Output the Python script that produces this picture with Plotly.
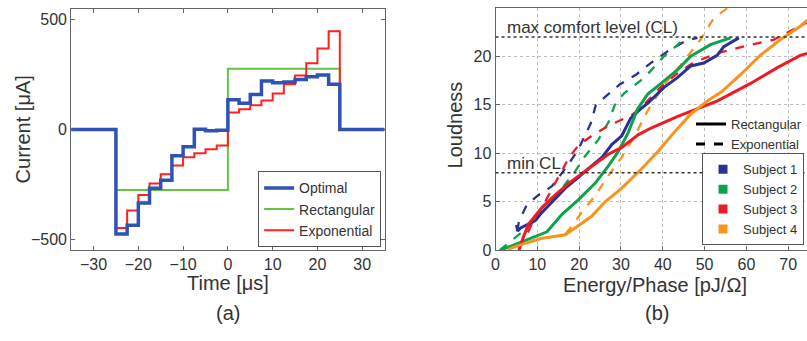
import plotly.graph_objects as go

W, H = 807, 341
FONT = "Liberation Sans, Arial, Helvetica, sans-serif"
TXT = "#333333"

# ---------------- (a) stimulation waveforms ----------------
t_edges = [-35, -25, -22.5, -20, -17.5, -15, -12.5, -10, -7.5, -5, -2.5, 0,
           2.5, 5, 7.5, 10, 12.5, 15, 17.5, 20, 22.5, 25, 35]
optimal = [0, -476, -436, -335, -268, -231, -120, -79, 1, -6, -3,
           135, 120, 159, 221, 213, 216, 228, 240, 248, 206, 0]
rectangular = [0, -276, -276, -276, -276, -276, -276, -276, -276, -276, -276,
               277, 277, 277, 277, 277, 277, 277, 277, 277, 277, 0]
exponential = [0, -449, -369, -298, -246, -204, -164, -127, -108, -90, -73,
               77, 92, 110, 132, 164, 206, 246, 302, 369, 447, 0]

# ---------------- (b) loudness growth ----------------
s1_rect_x = [5.0, 5.3, 6.0, 7.9, 9.5, 11.1, 13.9, 16.7, 20.0, 23.0, 25.5, 27.8, 30.2,
             32.3, 34.5, 36.5, 38.7, 40.3, 43.5, 46.7, 49.8, 53.0, 54.6, 58.2]
s1_rect_y = [2.6, 2.0, 2.3, 2.7, 3.05, 3.9, 5.2, 6.4, 7.6, 8.7, 9.6, 10.9, 11.8,
             13.6, 14.5, 15.2, 16.1, 16.8, 17.8, 19.0, 19.3, 20.1, 21.0, 21.9]
s1_exp_x = [5.2, 5.6, 7.5, 10.3, 13.5, 15.5, 17.5, 19.8, 21.8, 22.8, 24.0, 26.9,
            29.7, 33.6, 37.1, 41.1, 45.5, 48.3]
s1_exp_y = [2.0, 3.0, 4.7, 5.7, 6.6, 7.7, 8.9, 10.4, 12.1, 13.1, 15.0, 16.1,
            17.1, 18.1, 19.3, 20.5, 21.6, 21.9]

s2_rect_x = [1.2, 2.4, 7.9, 12.3, 15.9, 19.8, 23.8, 27.0, 29.4, 31.7, 34.0, 36.4,
             38.7, 43.5, 46.7, 51.4, 56.2]
s2_rect_y = [0.0, 0.2, 1.2, 1.9, 3.7, 5.2, 6.9, 8.7, 10.2, 12.1, 14.6, 16.1,
             16.9, 18.6, 20.0, 21.2, 21.9]
s2_exp_x = [1.0, 1.6, 4.4, 7.9, 12.7, 16.3, 19.0, 21.4, 24.6, 27.0, 28.7, 30.8,
            35.6, 40.3, 44.7, 46.6]
s2_exp_y = [0.0, 0.2, 1.2, 2.4, 4.7, 6.6, 8.1, 9.7, 11.4, 13.2, 15.2, 16.2,
            17.8, 20.0, 21.6, 22.0]

s3_rect_x = [5.6, 6.0, 6.7, 7.9, 11.1, 14.3, 17.5, 20.6, 23.8, 27.0, 30.2, 34.1,
             37.2, 43.6, 53.1, 61.0, 67.3, 72.9, 74.5]
s3_rect_y = [0.0, 0.6, 1.4, 2.7, 4.4, 5.7, 6.9, 7.9, 8.9, 9.9, 10.6, 11.9,
             12.6, 13.8, 15.4, 17.2, 18.8, 20.1, 20.3]
s3_exp_x = [5.3, 6.3, 7.9, 9.5, 11.1, 13.1, 15.5, 17.5, 19.8, 23.0, 26.1, 28.3,
            32.5, 35.5, 38.5, 41.0, 44.0, 47.5, 53.8, 60.2, 66.5, 72.9, 74.5]
s3_exp_y = [0.3, 0.9, 2.0, 3.4, 4.4, 6.0, 7.9, 9.5, 10.8, 11.8, 12.6, 13.1,
            13.9, 15.0, 16.4, 17.4, 18.4, 19.4, 20.4, 21.1, 21.7, 23.1, 23.5]

s4_rect_x = [3.0, 3.6, 6.3, 10.9, 16.7, 19.8, 23.0, 26.2, 30.2, 34.7, 38.7, 42.6,
             46.6, 51.0, 54.0, 58.6, 63.3, 68.1, 72.9, 74.5]
s4_rect_y = [0.0, 0.2, 0.6, 1.2, 1.6, 2.5, 3.5, 5.0, 6.4, 8.3, 10.1, 12.1,
             14.0, 15.5, 16.3, 18.1, 20.1, 21.7, 23.1, 23.7]
s4_exp_x = [16.7, 18.3, 20.6, 23.8, 27.0, 30.2, 33.3, 36.4, 40.4, 44.3, 49.0, 52.3, 56.3]
s4_exp_y = [1.7, 2.5, 3.9, 5.6, 7.7, 9.6, 11.8, 14.4, 17.1, 19.1, 21.7, 24.0, 25.2]

subjects = ["Subject 1", "Subject 2", "Subject 3", "Subject 4"]
subject_colors = ["#2b3192", "#0da34c", "#ec1c24", "#f7941d"]
comfort_levels = [22, 8]
comfort_labels = ["max comfort level (CL)", "min CL"]

fig = go.Figure()

# (a) traces: green, red, then blue on top
fig.add_trace(go.Scatter(x=t_edges, y=rectangular + [rectangular[-1]], line_shape="hv",
                         mode="lines", name="Rectangular", legendrank=2,
                         line=dict(color="#63c43f", width=2), xaxis="x", yaxis="y"))
fig.add_trace(go.Scatter(x=t_edges, y=exponential + [exponential[-1]], line_shape="hv",
                         mode="lines", name="Exponential", legendrank=3,
                         line=dict(color="#ff2020", width=2), xaxis="x", yaxis="y"))
fig.add_trace(go.Scatter(x=t_edges, y=optimal + [optimal[-1]], line_shape="hv",
                         mode="lines", name="Optimal", legendrank=1,
                         line=dict(color="#2f52b4", width=3.5), xaxis="x", yaxis="y"))

# (b) traces
rect_sets = [(s1_rect_x, s1_rect_y), (s2_rect_x, s2_rect_y), (s3_rect_x, s3_rect_y), (s4_rect_x, s4_rect_y)]
exp_sets = [(s1_exp_x, s1_exp_y), (s2_exp_x, s2_exp_y), (s3_exp_x, s3_exp_y), (s4_exp_x, s4_exp_y)]
for (ex, ey), c in zip(exp_sets, subject_colors):
    fig.add_trace(go.Scatter(x=ex, y=ey, mode="lines", showlegend=False,
                             line=dict(color=c, width=2.3, dash="dash"),
                             xaxis="x2", yaxis="y2"))
for (rx, ry), c in zip(rect_sets, subject_colors):
    fig.add_trace(go.Scatter(x=rx, y=ry, mode="lines", showlegend=False,
                             line=dict(color=c, width=3),
                             xaxis="x2", yaxis="y2"))

# legend 2: pulse shapes
fig.add_trace(go.Scatter(x=[None], y=[None], mode="lines", name="Rectangular",
                         line=dict(color="black", width=3), legend="legend2",
                         xaxis="x2", yaxis="y2"))
fig.add_trace(go.Scatter(x=[None], y=[None], mode="lines", name="Exponential",
                         line=dict(color="black", width=3, dash="dash"), legend="legend2",
                         xaxis="x2", yaxis="y2"))
# legend 3: subjects
for name, c in zip(subjects, subject_colors):
    fig.add_trace(go.Scatter(x=[None], y=[None], mode="markers", name=name,
                             marker=dict(color=c, symbol="square", size=9),
                             legend="legend3", xaxis="x2", yaxis="y2"))

# comfort level lines
for lvl, lab in zip(comfort_levels, comfort_labels):
    fig.add_shape(type="line", x0=0, x1=1, xref="x2 domain", y0=lvl, y1=lvl, yref="y2",
                  line=dict(color="#333333", width=1.5, dash="dot"))
    fig.add_annotation(x=0.03, xref="x2 domain", y=lvl + 0.95, yref="y2",
                       text=lab, showarrow=False, xanchor="left", yanchor="middle",
                       font=dict(size=17, color=TXT, family=FONT))

def px_x(p):
    return p / W

def px_y(p):
    return 1 - p / H

ydom = [px_y(257), px_y(9)]
axis_common = dict(showline=True, linecolor="#666666", linewidth=1, ticks="inside",
                   ticklen=4, tickcolor="#666666", zeroline=False,
                   tickfont=dict(size=16, color=TXT, family=FONT))

fig.update_layout(
    width=W, height=H, margin=dict(l=0, r=0, t=0, b=0),
    paper_bgcolor="white", plot_bgcolor="white",
    font=dict(family=FONT, color=TXT),
    xaxis=dict(domain=[px_x(67.5), px_x(382.5)], range=[-35, 35], tickvals=[-30, -20, -10, 0, 10, 20, 30],
               mirror="ticks", showgrid=False, anchor="y", **axis_common),
    yaxis=dict(domain=ydom, range=[-550, 550], tickvals=[-500, 0, 500],
               mirror="ticks", showgrid=False, anchor="x", **axis_common),
    xaxis2=dict(domain=[px_x(494), 1.0], range=[0, 74.5], tickvals=[0, 10, 20, 30, 40, 50, 60, 70],
                mirror=True, showgrid=True, gridcolor="#bdbdbd", griddash="dot", gridwidth=1,
                anchor="y2", **axis_common),
    yaxis2=dict(domain=[px_y(257), px_y(8)], range=[0, 25], tickvals=[0, 5, 10, 15, 20, 25],
                showgrid=True, gridcolor="#bdbdbd", griddash="dot", gridwidth=1,
                anchor="x2", **axis_common),
    legend=dict(x=px_x(379), xanchor="right", y=px_y(254), yanchor="bottom",
                bgcolor="white", bordercolor="#555555", borderwidth=1,
                font=dict(size=14, color=TXT, family=FONT), tracegroupgap=0,
                itemwidth=30),
    legend2=dict(x=1.0, xanchor="right", y=px_y(112), yanchor="top",
                 bgcolor="rgba(0,0,0,0)", borderwidth=0,
                 font=dict(size=13, color=TXT, family=FONT), itemwidth=30),
    legend3=dict(x=px_x(804), xanchor="right", y=px_y(252), yanchor="bottom",
                 bgcolor="white", bordercolor="#555555", borderwidth=1,
                 font=dict(size=13, color=TXT, family=FONT), itemwidth=30),
)

titles = [
    ("Current [μA]", 20, 133, -90),
    ("Time [μs]", 225, 291, 0),
    ("(a)", 225, 321, 0),
    ("Loudness", 453, 128, -90),
    ("Energy/Phase [pJ/Ω]", 654, 293, 0),
    ("(b)", 656, 321, 0),
]
for text, xp, yp, ang in titles:
    fig.add_annotation(x=px_x(xp), y=px_y(yp), xref="paper", yref="paper", text=text,
                       showarrow=False, textangle=ang, xanchor="center", yanchor="middle",
                       font=dict(size=20, color=TXT, family=FONT))

fig.write_html("out.html")
